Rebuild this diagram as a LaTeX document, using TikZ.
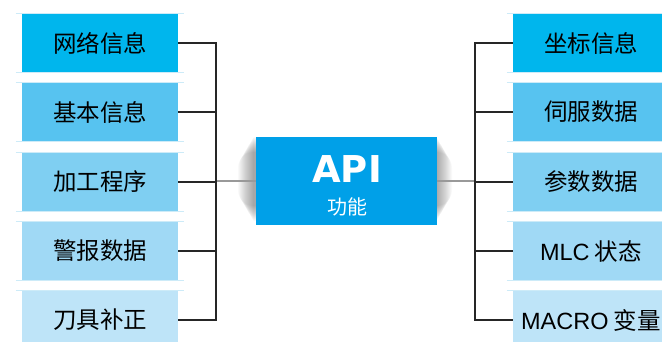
\documentclass[tikz,border=0pt]{standalone}
\usepackage{fontspec}
\newfontfamily\cjk{Noto Sans CJK SC}
\newfontfamily\lat{Liberation Sans}
\newfontfamily\apifont{DejaVu Sans}
\definecolor{c1}{HTML}{00B6ED}
\definecolor{c2}{HTML}{57C3F0}
\definecolor{c3}{HTML}{7FCFF2}
\definecolor{c4}{HTML}{A0D9F5}
\definecolor{c5}{HTML}{BEE4F8}
\definecolor{capi}{HTML}{00A0E8}
\definecolor{edgec}{HTML}{CDEBF8}
\tikzset{
  item/.style={minimum width=156pt, minimum height=58pt, inner sep=0pt, text=black,
    font=\cjk\fontsize{23.5}{26}\selectfont},
  bracket/.style={draw=black!85, line width=1.6pt},
  stub/.style={draw=black!40, line width=1.4pt},
  edgeline/.style={draw=edgec, line width=0.8pt},
  glow/.style={fill=black, opacity=0.022},
}
\begin{document}
\begin{tikzpicture}[x=1pt,y=-1pt]
\useasboundingbox (0,0) rectangle (662,341);
\clip (0,0) rectangle (662,341);
\fill[white] (0,0) rectangle (662,341);
% left items
\node[item, fill=c1] (l1) at (100,43) {网络信息};
\node[item, fill=c2] (l2) at (100,112) {基本信息};
\node[item, fill=c3] (l3) at (100,182) {加工程序};
\node[item, fill=c4] (l4) at (100,251) {警报数据};
\node[item, fill=c5] (l5) at (100,320) {刀具补正};
% right items
\node[item, fill=c1] (r1) at (591,43) {坐标信息};
\node[item, fill=c2] (r2) at (591,112) {伺服数据};
\node[item, fill=c3] (r3) at (591,182) {参数数据};
\node[item, fill=c4] (r4) at (591,251) {{\lat MLC} 状态};
\node[item, fill=c5] (r5) at (591,320) {{\lat MACRO} 变量};
\foreach \n in {l1,l2,l3,l4,l5,r1,r2,r3,r4,r5}{
  \draw[edgeline] ([xshift=-6pt]\n.north west) -- ([xshift=6pt]\n.north east);
  \draw[edgeline] ([xshift=-6pt]\n.south west) -- ([xshift=6pt]\n.south east);
}
% soft shadow around the centre box
\coordinate (anw) at (256,137);
\coordinate (ase) at (437,225);
\foreach \i in {1,...,16}{
  \fill[glow, rounded corners=\i pt] ([shift={(-\i pt-2pt,-\i pt+1pt)}]anw) rectangle ([shift={(\i pt-1pt,\i pt+3pt)}]ase);
}
% center
\node[fill=capi, minimum width=181pt, minimum height=88pt, inner sep=0pt]
  (api) at (346.5,181) {};
\node[text=white, font=\apifont\bfseries\fontsize{37}{40}\selectfont, anchor=base] (apit) at (347,182) {API};
\node[text=white, font=\cjk\fontsize{20}{22}\selectfont] (apis) at (347,207) {功能};
% bars
\coordinate (lbar) at (216,0);
\coordinate (rbar) at (475,0);
\draw[stub] (api.west) -- (api.west -| lbar);
\draw[stub] (api.east) -- (api.east -| rbar);
\draw[bracket] (l1.east) -- (l1.east -| lbar) -- (l5.east -| lbar) -- (l5.east);
\foreach \n in {l2,l3,l4}{\draw[bracket] (\n.east) -- (\n.east -| lbar);}
\draw[bracket] (r1.west) -- (r1.west -| rbar) -- (r5.west -| rbar) -- (r5.west);
\foreach \n in {r2,r3,r4}{\draw[bracket] (\n.west) -- (\n.west -| rbar);}
\end{tikzpicture}
\end{document}
